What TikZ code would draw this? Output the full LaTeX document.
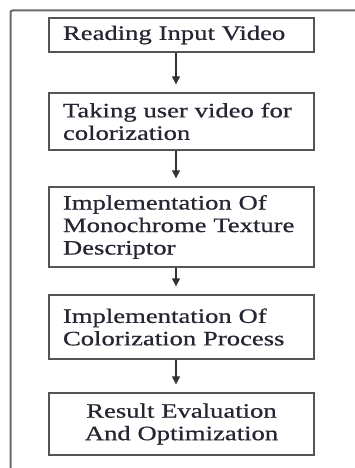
\documentclass[tikz,border=0pt]{standalone}
\usepackage{fontspec}
\setmainfont[FakeStretch=1.3,WordSpace=0.55,FakeBold=0.7]{Liberation Serif}
\usetikzlibrary{arrows.meta}
\definecolor{boxline}{HTML}{555555}
\definecolor{frameline}{HTML}{6A6A6A}
\definecolor{txt}{HTML}{262633}
\begin{document}
\begin{tikzpicture}[x=1pt,y=-1pt,
  stepbox/.style={draw=boxline,line width=1.3pt,minimum width=265pt,
    text width=237pt,inner xsep=14pt,inner ysep=0pt,align=left,
    text=txt,font=\fontsize{20.5}{22.5}\selectfont},
  flowarrow/.style={draw=black!80,line width=1.1pt,
    -{Triangle[length=8pt,width=8pt]},shorten >=8pt}]
\useasboundingbox (0,0) rectangle (355,468);
\draw[frameline,line width=2pt,rounded corners=2pt] (10.5,468) -- (10.5,10.5) -- (355,10.5);
\node[stepbox,minimum height=34pt] (b1) at (181.5,35) {Reading Input Video};
\node[stepbox,minimum height=57pt] (b2) at (181.5,121.5) {Taking user video for colorization};
\node[stepbox,minimum height=80pt] (b3) at (181.5,227) {Implementation Of Monochrome Texture Descriptor};
\node[stepbox,minimum height=64pt] (b4) at (181.5,327) {Implementation Of Colorization Process};
\node[stepbox,minimum height=62pt,align=center] (b5) at (181.5,424) {Result Evaluation\\And Optimization};
\draw[flowarrow] (b1.south -| 176,0) -- (b2.north -| 176,0);
\draw[flowarrow] (b2.south -| 176,0) -- (b3.north -| 176,0);
\draw[flowarrow] (b3.south -| 176,0) -- (b4.north -| 176,0);
\draw[flowarrow] (b4.south -| 176,0) -- (b5.north -| 176,0);
\end{tikzpicture}
\end{document}
